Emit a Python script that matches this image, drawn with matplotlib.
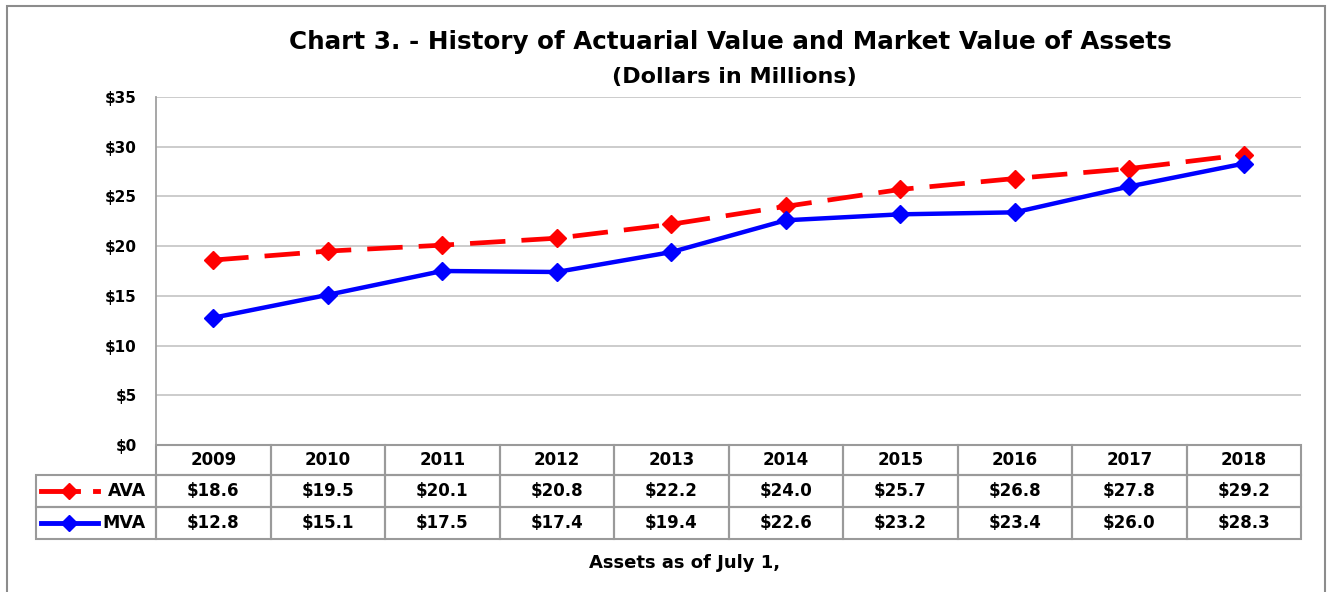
import matplotlib.pyplot as plt
from matplotlib.lines import Line2D
from matplotlib.patches import Rectangle

years = ['2009', '2010', '2011', '2012', '2013', '2014', '2015', '2016', '2017', '2018']
ava = [18.6, 19.5, 20.1, 20.8, 22.2, 24.0, 25.7, 26.8, 27.8, 29.2]
mva = [12.8, 15.1, 17.5, 17.4, 19.4, 22.6, 23.2, 23.4, 26.0, 28.3]
yticks = [0, 5, 10, 15, 20, 25, 30, 35]

plt.rcParams['font.family'] = ['DejaVu Sans']
plt.rcParams['font.weight'] = 'bold'

W, H = 1331, 592
fig = plt.figure(figsize=(W / 100, H / 100), dpi=100)

# plot area in pixels
L, R, T, B = 156, 1301, 97, 445
ax = fig.add_axes([L / W, 1 - B / H, (R - L) / W, (B - T) / H])

xs = list(range(len(years)))
ax.plot(xs, ava, color='#ff0000', lw=3.4, ls=(0, (7.5, 3.4)), marker='D', ms=9.5, zorder=3)
ax.plot(xs, mva, color='#0000ff', lw=3.2, marker='D', ms=9.5, zorder=3)

ax.set_xlim(-0.5, len(years) - 0.5)
ax.set_ylim(0, 35)
ax.set_yticks(yticks)
ax.set_yticklabels([f'${v}' for v in yticks], fontsize=11, fontweight='bold')
ax.set_xticks([])
ax.tick_params(axis='y', length=0, pad=14)
ax.yaxis.grid(True, color='#c8c8c8', lw=1.3)
ax.set_axisbelow(True)
for s in ['top', 'right', 'bottom']:
    ax.spines[s].set_visible(False)
ax.spines['left'].set_color('#a0a0a0')
ax.spines['left'].set_linewidth(1.3)


def ax_x(px):
    return (px - L) / (R - L)


def ax_y(py):
    return (B - py) / (B - T)


# data table under the axis: x in data units, y in axes units
tr = ax.get_xaxis_transform()
edge = '#9a9a9a'
rows = [(445, 475, years),
        (475, 507, [f'${v:.1f}' for v in ava]),
        (507, 539, [f'${v:.1f}' for v in mva])]
for top, bot, texts in rows:
    y0, y1 = ax_y(bot), ax_y(top)
    for j, t in enumerate(texts):
        ax.add_patch(Rectangle((j - 0.5, y0), 1, y1 - y0, transform=tr, fill=False,
                               edgecolor=edge, lw=1.5, clip_on=False))
        ax.text(j, (y0 + y1) / 2, t, transform=tr, ha='center', va='center',
                fontsize=12, fontweight='bold', clip_on=False)

# row label cells with legend keys
for top, bot, name, color, dashed in [(475, 507, 'AVA', '#ff0000', True),
                                      (507, 539, 'MVA', '#0000ff', False)]:
    y0, y1 = ax_y(bot), ax_y(top)
    ym = (y0 + y1) / 2
    ax.add_patch(Rectangle((ax_x(36), y0), ax_x(L) - ax_x(36), y1 - y0,
                           transform=ax.transAxes, fill=False, edgecolor=edge, lw=1.5,
                           clip_on=False))
    ax.text(ax_x(146), ym, name, transform=ax.transAxes, ha='right', va='center',
            fontsize=12.5, fontweight='bold', clip_on=False)
    if dashed:
        segs = [(41, 78), (95, 98)]
    else:
        segs = [(41, 98)]
    for a, b in segs:
        ax.add_line(Line2D([ax_x(a), ax_x(b)], [ym, ym], color=color, lw=3.5,
                           transform=ax.transAxes, clip_on=False))
    ax.add_line(Line2D([ax_x(69)], [ym], color=color, marker='D', ms=8, lw=0,
                       transform=ax.transAxes, clip_on=False))

fig.text(730 / W, 1 - 42 / H, 'Chart 3. - History of Actuarial Value and Market Value of Assets',
         ha='center', va='center', fontsize=17.7, fontweight='bold')
fig.text(734 / W, 1 - 77 / H, '(Dollars in Millions)', ha='center', va='center',
         fontsize=16, fontweight='bold')
fig.text(685 / W, 1 - 563 / H, 'Assets as of July 1,', ha='center', va='center',
         fontsize=13, fontweight='bold')

# outer chart border
fig.add_artist(Rectangle((7 / W, -0.05), (1325 - 7) / W, 1.05 - 6 / H,
                         transform=fig.transFigure, fill=False, edgecolor='#8c8c8c', lw=1.5))

fig.savefig('out.png', dpi=100)
